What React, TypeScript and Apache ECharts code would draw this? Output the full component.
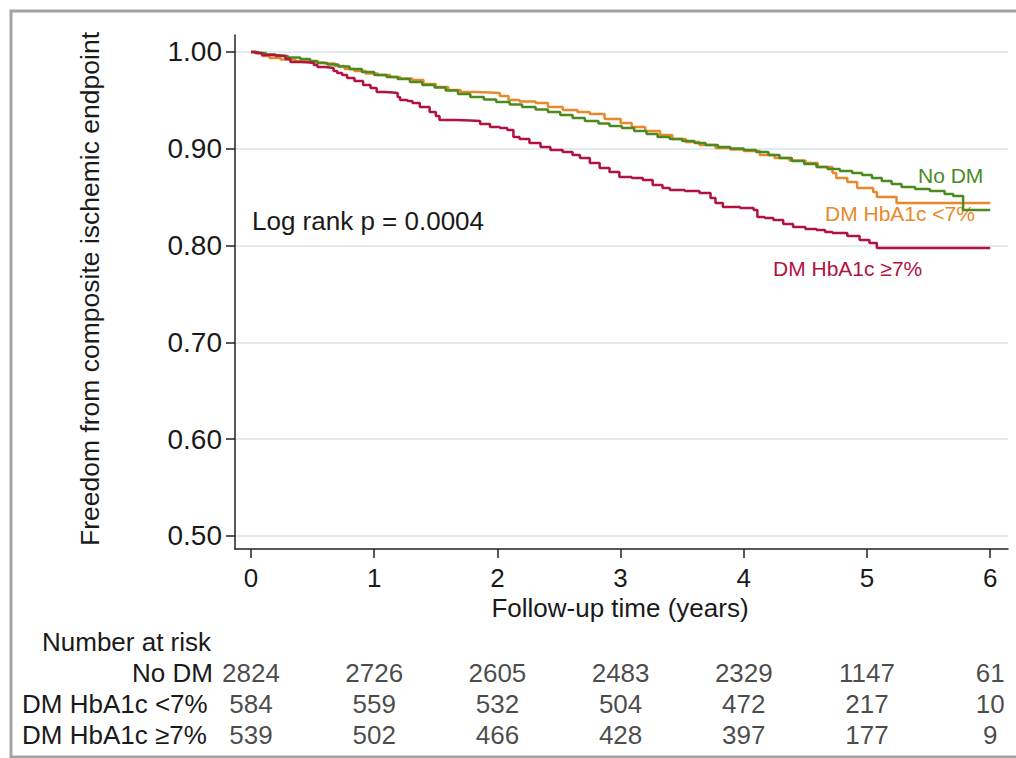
import React, { useEffect, useRef } from "react";
import * as echarts from "echarts";

// ---- Data ----
const yearTicks = [0, 1, 2, 3, 4, 5, 6];
const survivalTicks = [0.5, 0.6, 0.7, 0.8, 0.9, 1.0];

const groups = ["No DM", "DM HbA1c <7%", "DM HbA1c \u22657%"];

const riskNoDM = [2824, 2726, 2605, 2483, 2329, 1147, 61];
const riskLow = [584, 559, 532, 504, 472, 217, 10];
const riskHigh = [539, 502, 466, 428, 397, 177, 9];

// Kaplan-Meier steps (time in years, survival after event)
const noDmTime = [0, 0.06, 0.12, 0.2, 0.3, 0.4, 0.48, 0.54, 0.62, 0.71, 0.8, 0.9, 1.0, 1.1, 1.19, 1.29, 1.39, 1.49, 1.58, 1.68, 1.78, 1.89, 1.99, 2.1, 2.2, 2.31, 2.41, 2.51, 2.61, 2.71, 2.82, 2.91, 3.01, 3.11, 3.21, 3.3, 3.4, 3.5, 3.6, 3.69, 3.79, 3.89, 4.0, 4.1, 4.2, 4.29, 4.39, 4.49, 4.59, 4.68, 4.78, 4.88, 4.96, 5.04, 5.12, 5.2, 5.28, 5.39, 5.51, 5.63, 5.7, 5.78, 6.0];
const noDmSurv = [1, 0.999, 0.9974, 0.9959, 0.9943, 0.9928, 0.9907, 0.9886, 0.9871, 0.985, 0.9824, 0.9793, 0.9762, 0.9742, 0.9721, 0.969, 0.9659, 0.9633, 0.9602, 0.9566, 0.9535, 0.9509, 0.9483, 0.9458, 0.9432, 0.9406, 0.938, 0.9349, 0.9318, 0.9287, 0.9261, 0.9236, 0.9215, 0.9184, 0.9153, 0.9122, 0.9101, 0.9081, 0.906, 0.9039, 0.9019, 0.9003, 0.8988, 0.8967, 0.8936, 0.8905, 0.8874, 0.8843, 0.8812, 0.8791, 0.8771, 0.875, 0.8729, 0.8698, 0.8667, 0.8636, 0.8605, 0.8584, 0.8564, 0.8533, 0.8512, 0.8368, 0.8368];

const lowTime = [0, 0.03, 0.09, 0.15, 0.24, 0.36, 0.48, 0.6, 0.68, 0.76, 0.84, 0.93, 1.03, 1.13, 1.21, 1.31, 1.4, 1.5, 1.6, 1.7, 1.82, 1.94, 2.02, 2.09, 2.18, 2.31, 2.41, 2.53, 2.65, 2.75, 2.87, 3.0, 3.09, 3.2, 3.32, 3.42, 3.53, 3.64, 3.77, 3.89, 4.0, 4.13, 4.25, 4.37, 4.5, 4.6, 4.72, 4.75, 4.84, 4.92, 5.05, 5.08, 5.24, 6.0];
const lowSurv = [1, 0.999, 0.9959, 0.9938, 0.9923, 0.9907, 0.9892, 0.9881, 0.9855, 0.9824, 0.9804, 0.9778, 0.9762, 0.9742, 0.9726, 0.9711, 0.9669, 0.9638, 0.9607, 0.9587, 0.9582, 0.9576, 0.9545, 0.9504, 0.9489, 0.9473, 0.9432, 0.9401, 0.938, 0.936, 0.9308, 0.9267, 0.9225, 0.9184, 0.9143, 0.9101, 0.907, 0.9039, 0.9008, 0.8993, 0.8977, 0.8936, 0.8905, 0.8879, 0.8853, 0.8812, 0.875, 0.8698, 0.8657, 0.8595, 0.8554, 0.8502, 0.844, 0.844];

const highTime = [0, 0.04, 0.09, 0.17, 0.24, 0.28, 0.32, 0.4, 0.48, 0.51, 0.54, 0.6, 0.64, 0.67, 0.7, 0.74, 0.78, 0.84, 0.91, 0.97, 1.02, 1.09, 1.15, 1.19, 1.21, 1.27, 1.31, 1.37, 1.45, 1.5, 1.53, 1.66, 1.78, 1.86, 1.94, 2.02, 2.08, 2.13, 2.18, 2.26, 2.35, 2.43, 2.53, 2.61, 2.67, 2.75, 2.83, 2.91, 2.99, 3.09, 3.18, 3.26, 3.34, 3.4, 3.52, 3.64, 3.73, 3.77, 3.83, 3.97, 4.08, 4.11, 4.17, 4.24, 4.32, 4.4, 4.5, 4.59, 4.66, 4.72, 4.84, 4.94, 5.02, 5.08, 6.0];
const highSurv = [1, 0.999, 0.9969, 0.9964, 0.9959, 0.9928, 0.9897, 0.9892, 0.9886, 0.9866, 0.9845, 0.984, 0.9835, 0.9804, 0.9783, 0.9762, 0.9731, 0.97, 0.9659, 0.9628, 0.9587, 0.9582, 0.9576, 0.9535, 0.9504, 0.9494, 0.9473, 0.9432, 0.938, 0.9339, 0.9298, 0.9292, 0.9287, 0.9256, 0.9225, 0.9215, 0.9194, 0.9122, 0.9101, 0.906, 0.9019, 0.8988, 0.8967, 0.8936, 0.8905, 0.8853, 0.8802, 0.876, 0.8709, 0.8698, 0.8678, 0.8626, 0.8595, 0.8574, 0.8564, 0.8543, 0.8492, 0.844, 0.8399, 0.8388, 0.8368, 0.8295, 0.8285, 0.8264, 0.8223, 0.8192, 0.8171, 0.8161, 0.814, 0.813, 0.8099, 0.8058, 0.8027, 0.7975, 0.7975];

const colors = ["#4a8a1e", "#e8892b", "#b1123f"];
const FONT = "'Liberation Sans', Arial, Helvetica, sans-serif";
const TXT = "#1a1a1a";

const zip = (t: number[], s: number[]) => t.map((v, i) => [v, s[i]]);

export default function App() {
  const ref = useRef<HTMLDivElement>(null);
  useEffect(() => {
    if (!ref.current) return;
    const chart = echarts.init(ref.current, null, { renderer: "svg" });
    const xMin = -0.1299;
    const xMax = 6.1445;
    const riskRows = [riskNoDM, riskLow, riskHigh];
    const riskData: any[] = [];
    riskRows.forEach((row, r) =>
      row.forEach((n, i) => riskData.push([yearTicks[i], r, n]))
    );
    chart.setOption({
      animation: false,
      backgroundColor: "#ffffff",
      textStyle: { fontFamily: FONT },
      grid: [
        { left: 235, top: 35, right: 8, bottom: 209 },
        { left: 235, top: 657.5, right: 8, height: 93 },
      ],
      xAxis: [
        {
          type: "value",
          gridIndex: 0,
          min: xMin,
          max: xMax,
          axisLine: { show: true, onZero: false, lineStyle: { color: "#222", width: 1.5 } },
          axisTick: { show: true, length: 9, customValues: yearTicks, lineStyle: { color: "#222", width: 1.5 } },
          axisLabel: { customValues: yearTicks, fontSize: 26, color: TXT, margin: 16, fontFamily: FONT },
          splitLine: { show: false },
        },
        { type: "value", gridIndex: 1, min: xMin, max: xMax, show: false },
      ],
      yAxis: [
        {
          type: "value",
          gridIndex: 0,
          min: 0.48657,
          max: 1.01756,
          axisLine: { show: true, onZero: false, lineStyle: { color: "#222", width: 1.5 } },
          axisTick: { show: true, length: 9, customValues: survivalTicks, lineStyle: { color: "#222", width: 1.5 } },
          axisLabel: {
            customValues: survivalTicks,
            fontSize: 28,
            color: TXT,
            margin: 13,
            fontFamily: FONT,
            formatter: (v: number) => v.toFixed(2),
          },
          splitLine: { show: true, lineStyle: { color: "#e4ebf0", width: 2 } },
        },
        {
          type: "category",
          gridIndex: 1,
          data: groups,
          inverse: true,
          show: false,
        },
      ],
      series: [
        {
          name: groups[1],
          type: "line",
          step: "end",
          showSymbol: false,
          data: zip(lowTime, lowSurv),
          lineStyle: { color: colors[1], width: 2.5 },
          itemStyle: { color: colors[1] },
          z: 2,
        },
        {
          name: groups[0],
          type: "line",
          step: "end",
          showSymbol: false,
          data: zip(noDmTime, noDmSurv),
          lineStyle: { color: colors[0], width: 2.5 },
          itemStyle: { color: colors[0] },
          z: 3,
        },
        {
          name: groups[2],
          type: "line",
          step: "end",
          showSymbol: false,
          data: zip(highTime, highSurv),
          lineStyle: { color: colors[2], width: 2.5 },
          itemStyle: { color: colors[2] },
          z: 4,
        },
        {
          type: "scatter",
          xAxisIndex: 1,
          yAxisIndex: 1,
          symbolSize: 1,
          itemStyle: { color: "rgba(0,0,0,0)" },
          data: riskData,
          label: {
            show: true,
            position: "inside",
            formatter: (p: any) => String(p.value[2]),
            fontSize: 26,
            color: TXT,
            fontFamily: FONT,
          },
        },
      ],
      graphic: [
        {
          type: "rect",
          shape: { x: 11, y: 11, width: 1012, height: 746 },
          style: { fill: "none", stroke: "#a3a3a3", lineWidth: 3 },
          silent: true,
        },
        {
          type: "text",
          x: 90,
          y: 289,
          rotation: Math.PI / 2,
          style: { text: "Freedom from composite ischemic endpoint", fontSize: 26.5, fill: TXT, fontFamily: FONT, align: "center", verticalAlign: "middle" },
        },
        {
          type: "text",
          x: 620,
          y: 608,
          style: { text: "Follow-up time (years)", fontSize: 26, fill: TXT, fontFamily: FONT, align: "center", verticalAlign: "middle" },
        },
        {
          type: "text",
          x: 252,
          y: 221,
          style: { text: "Log rank p = 0.0004", fontSize: 26, fill: TXT, fontFamily: FONT, align: "left", verticalAlign: "middle" },
        },
        {
          type: "text",
          x: 918,
          y: 175,
          style: { text: groups[0], fontSize: 21, fill: colors[0], fontFamily: FONT, align: "left", verticalAlign: "middle" },
        },
        {
          type: "text",
          x: 825,
          y: 213,
          style: { text: groups[1], fontSize: 21, fill: colors[1], fontFamily: FONT, align: "left", verticalAlign: "middle" },
        },
        {
          type: "text",
          x: 773,
          y: 268,
          style: { text: groups[2], fontSize: 21, fill: colors[2], fontFamily: FONT, align: "left", verticalAlign: "middle" },
        },
        {
          type: "text",
          x: 42,
          y: 642,
          style: { text: "Number at risk", fontSize: 26, fill: TXT, fontFamily: FONT, align: "left", verticalAlign: "middle" },
        },
        {
          type: "text",
          x: 213,
          y: 673,
          style: { text: groups[0], fontSize: 26, fill: TXT, fontFamily: FONT, align: "right", verticalAlign: "middle" },
        },
        {
          type: "text",
          x: 22,
          y: 704,
          style: { text: groups[1], fontSize: 26, fill: TXT, fontFamily: FONT, align: "left", verticalAlign: "middle" },
        },
        {
          type: "text",
          x: 22,
          y: 735,
          style: { text: groups[2], fontSize: 26, fill: TXT, fontFamily: FONT, align: "left", verticalAlign: "middle" },
        },
      ],
    });
    return () => chart.dispose();
  }, []);
  return (
    <div
      ref={ref}
      style={{ position: "fixed", left: 0, top: 0, width: 1016, height: 758, background: "#fff" }}
    />
  );
}
